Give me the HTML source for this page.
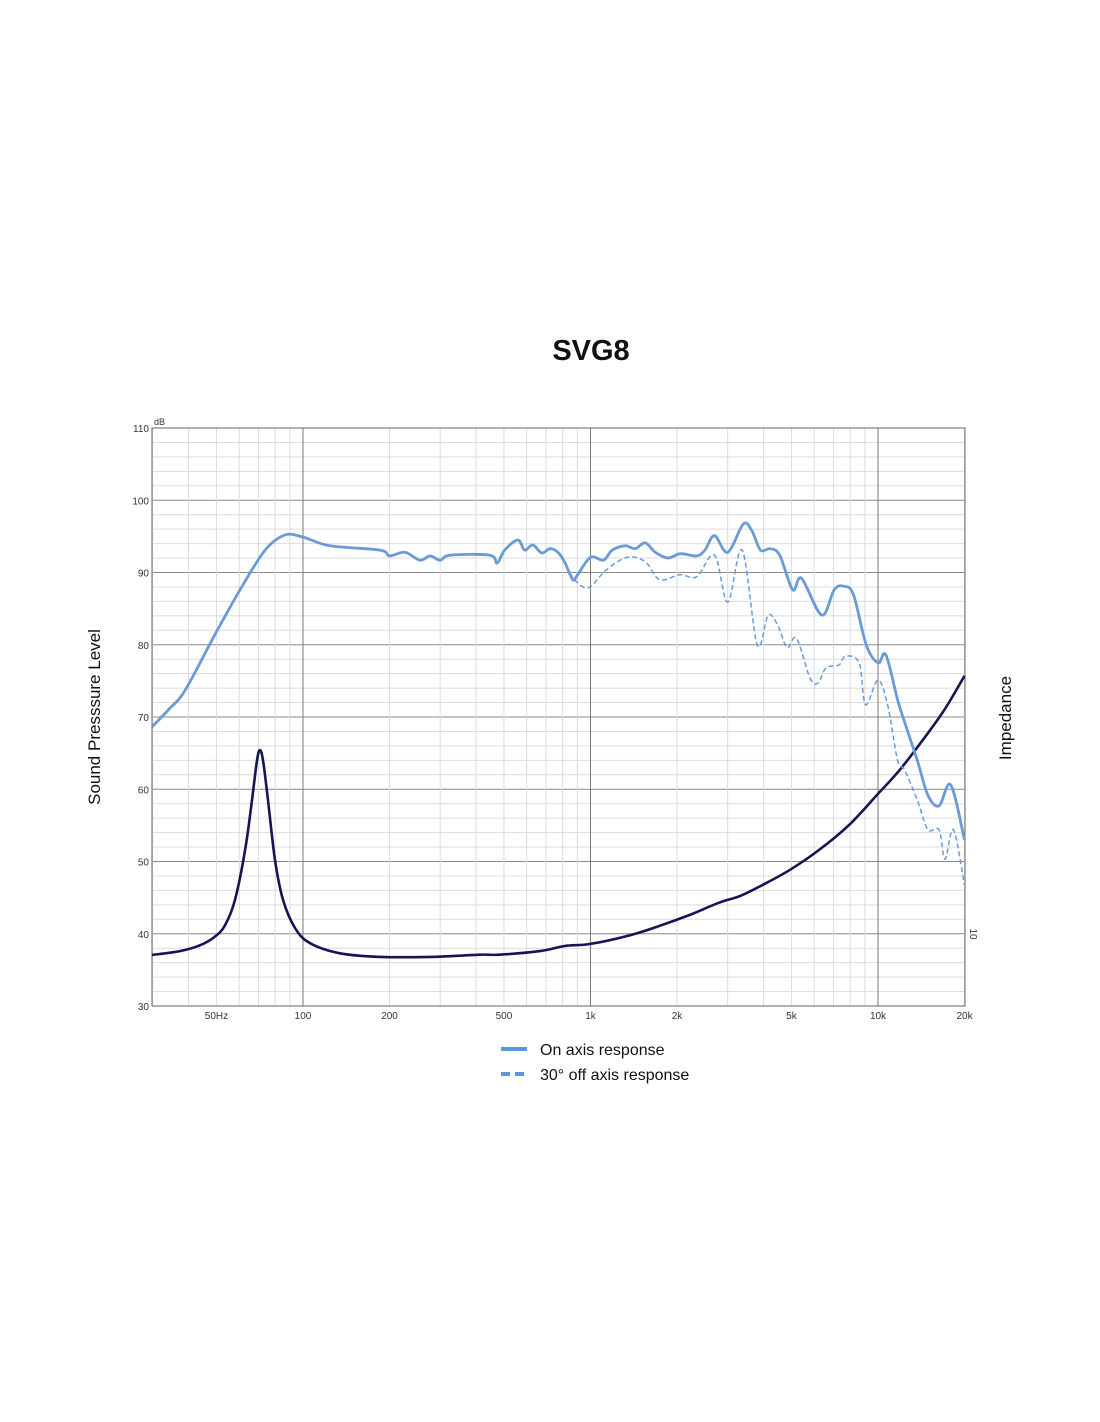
<!DOCTYPE html>
<html><head><meta charset="utf-8"><style>
body{margin:0;background:#fff;font-family:"Liberation Sans",sans-serif;}
svg{display:block}
</style></head><body>
<svg id="chart" width="1100" height="1422" viewBox="0 0 1100 1422" xmlns="http://www.w3.org/2000/svg">
<text x="591" y="360" text-anchor="middle" font-size="29" font-weight="bold" fill="#111">SVG8</text>
<g id="grid"></g>
<g id="axes"></g>
<g id="series"></g>
<text transform="translate(100,717) rotate(-90)" text-anchor="middle" font-size="17" fill="#111">Sound Presssure Level</text>
<text transform="translate(1011,718) rotate(-90)" text-anchor="middle" font-size="17" fill="#111">Impedance</text>
<text x="154" y="425" font-size="9" fill="#333">dB</text>
<text transform="translate(970,934) rotate(90)" text-anchor="middle" font-size="10" fill="#333">10</text>
<g>
<line x1="501" y1="1049" x2="527" y2="1049" stroke="#5b97d6" stroke-width="4"/>
<text x="540" y="1055" font-size="16" fill="#111">On axis response</text>
<line x1="501" y1="1074" x2="527" y2="1074" stroke="#5b97d6" stroke-width="4" stroke-dasharray="9,5"/>
<text x="540" y="1080" font-size="16" fill="#111">30° off axis response</text>
</g>
</svg>
<script>
const xTickFreqs=[50,100,200,500,1000,2000,5000,10000,20000];
const xTickLabels=["50Hz","100","200","500","1k","2k","5k","10k","20k"];
const yTicks=[30,40,50,60,70,80,90,100,110];
const onFreq=[29.8,34.4,38.9,49.4,60.4,73.8,86.6,100,124,185,200,226,255,277,300,325,447,473,503,559,590,630,677,723,770,814,868,902,1000,1110,1190,1320,1430,1550,1680,1860,2050,2340,2500,2700,3000,3400,3640,3900,4210,4550,5050,5420,6370,7040,7600,8220,9100,10000,10650,11700,12370,13700,14900,16300,17900,20000];
const onDb=[68.6,71.2,73.7,81.4,87.6,93.1,95.2,94.9,93.7,93.1,92.3,92.8,91.7,92.3,91.7,92.4,92.4,91.3,93.1,94.5,93.1,93.8,92.7,93.3,92.8,91.4,89.0,89.7,92.1,91.7,93.1,93.7,93.3,94.1,92.8,92.0,92.6,92.3,93.1,95.1,92.8,96.7,95.8,93.1,93.3,92.4,87.6,89.2,84.1,87.6,88.1,86.9,80.0,77.5,78.6,72.4,69.3,64.0,59.2,57.7,60.6,53.0];
const offFreq=[770,814,880,985,1130,1340,1550,1740,2050,2340,2700,3000,3370,3800,4150,4480,4830,5200,5800,6190,6600,7320,7700,8600,9050,10000,10800,11700,12370,13700,14900,16300,17100,18300,20000];
const offDb=[92.8,91.4,89.0,87.9,90.3,92.1,91.5,89.0,89.7,89.4,92.4,85.9,93.1,80.0,84.1,82.7,79.6,80.9,75.4,74.7,76.8,77.2,78.4,77.5,71.7,75.1,71.7,64.0,62.7,58.5,54.4,54.4,50.3,54.4,46.7];
const impFreq=[29.8,37.3,43.8,49.4,53.6,58.0,62.9,66.5,69.2,70.8,72.6,75.5,79.9,85.2,93.8,105.8,134.5,185,277,413,484,667,814,1000,1373,1740,2210,2800,3300,3900,4920,6240,7950,10070,11920,14560,17090,20000];
const impLevel=[37.06,37.6,38.4,39.6,41.2,44.7,51.6,58.6,64.0,65.4,64.0,58.6,50.2,44.7,40.8,38.7,37.3,36.8,36.8,37.1,37.1,37.6,38.3,38.6,39.8,41.1,42.6,44.3,45.2,46.6,48.8,51.6,55.1,59.5,62.7,67.2,71.1,75.7];

const X0=152,X1=965,Y0=428,Y1=1006;
function xs(f){return 303+(Math.log10(f)-2)*287.5;}
function ys(v){return Y0+(110-v)*(Y1-Y0)/80;}
const NS="http://www.w3.org/2000/svg";
function mk(tag,attrs,parent){const e=document.createElementNS(NS,tag);for(const k in attrs)e.setAttribute(k,attrs[k]);parent.appendChild(e);return e;}
const grid=document.getElementById('grid'),axes=document.getElementById('axes'),series=document.getElementById('series');
// horizontal minor grid every 2 dB
for(let v=30;v<=110;v+=2){
  const major=v%10===0;
  const l=mk('line',{x1:X0,x2:X1,y1:ys(v),y2:ys(v),stroke:major?'#8a8a8a':'#dcdcdc','stroke-width':1},grid);
  
  
}
// vertical grid
for(let d=10;d<=10000;d*=10){
  for(let m=1;m<10;m++){
    const f=d*m; if(f<30||f>20000)continue;
    const x=xs(f); const major=(m===1);
    const l=mk('line',{x1:x,x2:x,y1:Y0,y2:Y1,stroke:major?'#7a7a7a':'#dcdcdc','stroke-width':1},grid);
    
    
  }
}
const fr=mk('rect',{x:X0,y:Y0,width:X1-X0,height:Y1-Y0,fill:'none',stroke:'#666','stroke-width':1},axes);


yTicks.forEach(v=>{
  const t=mk('text',{x:X0-3,y:ys(v)+4,'text-anchor':'end','font-size':10,fill:'#333'},axes);
  t.textContent=v;
  
  
});
xTickFreqs.forEach((f,i)=>{
  const t=mk('text',{x:xs(f),y:Y1+13,'text-anchor':'middle','font-size':10,fill:'#333'},axes);
  t.textContent=xTickLabels[i];
  
  
});
function pathFrom(fa,va){
  const p=fa.map((f,i)=>[xs(f),ys(va[i])]);
  let d='M'+p[0][0].toFixed(1)+','+p[0][1].toFixed(1);
  for(let i=0;i<p.length-1;i++){
    const a=p[Math.max(0,i-1)],b=p[i],c=p[i+1],e=p[Math.min(p.length-1,i+2)];
    const c1=[b[0]+(c[0]-a[0])/6,b[1]+(c[1]-a[1])/6],c2=[c[0]-(e[0]-b[0])/6,c[1]-(e[1]-b[1])/6];
    d+=' C'+c1[0].toFixed(1)+','+c1[1].toFixed(1)+' '+c2[0].toFixed(1)+','+c2[1].toFixed(1)+' '+c[0].toFixed(1)+','+c[1].toFixed(1);
  }
  return d;
}
const imp=mk('path',{d:pathFrom(impFreq,impLevel),fill:'none',stroke:'#141457','stroke-width':2.6},series);


const off=mk('path',{d:pathFrom(offFreq,offDb),fill:'none',stroke:'#6a9bd6','stroke-width':1.5,'stroke-dasharray':'5,3'},series);


const on=mk('path',{d:pathFrom(onFreq,onDb),fill:'none',stroke:'#6a9bd6','stroke-width':2.8},series);


</script>
</body></html>
